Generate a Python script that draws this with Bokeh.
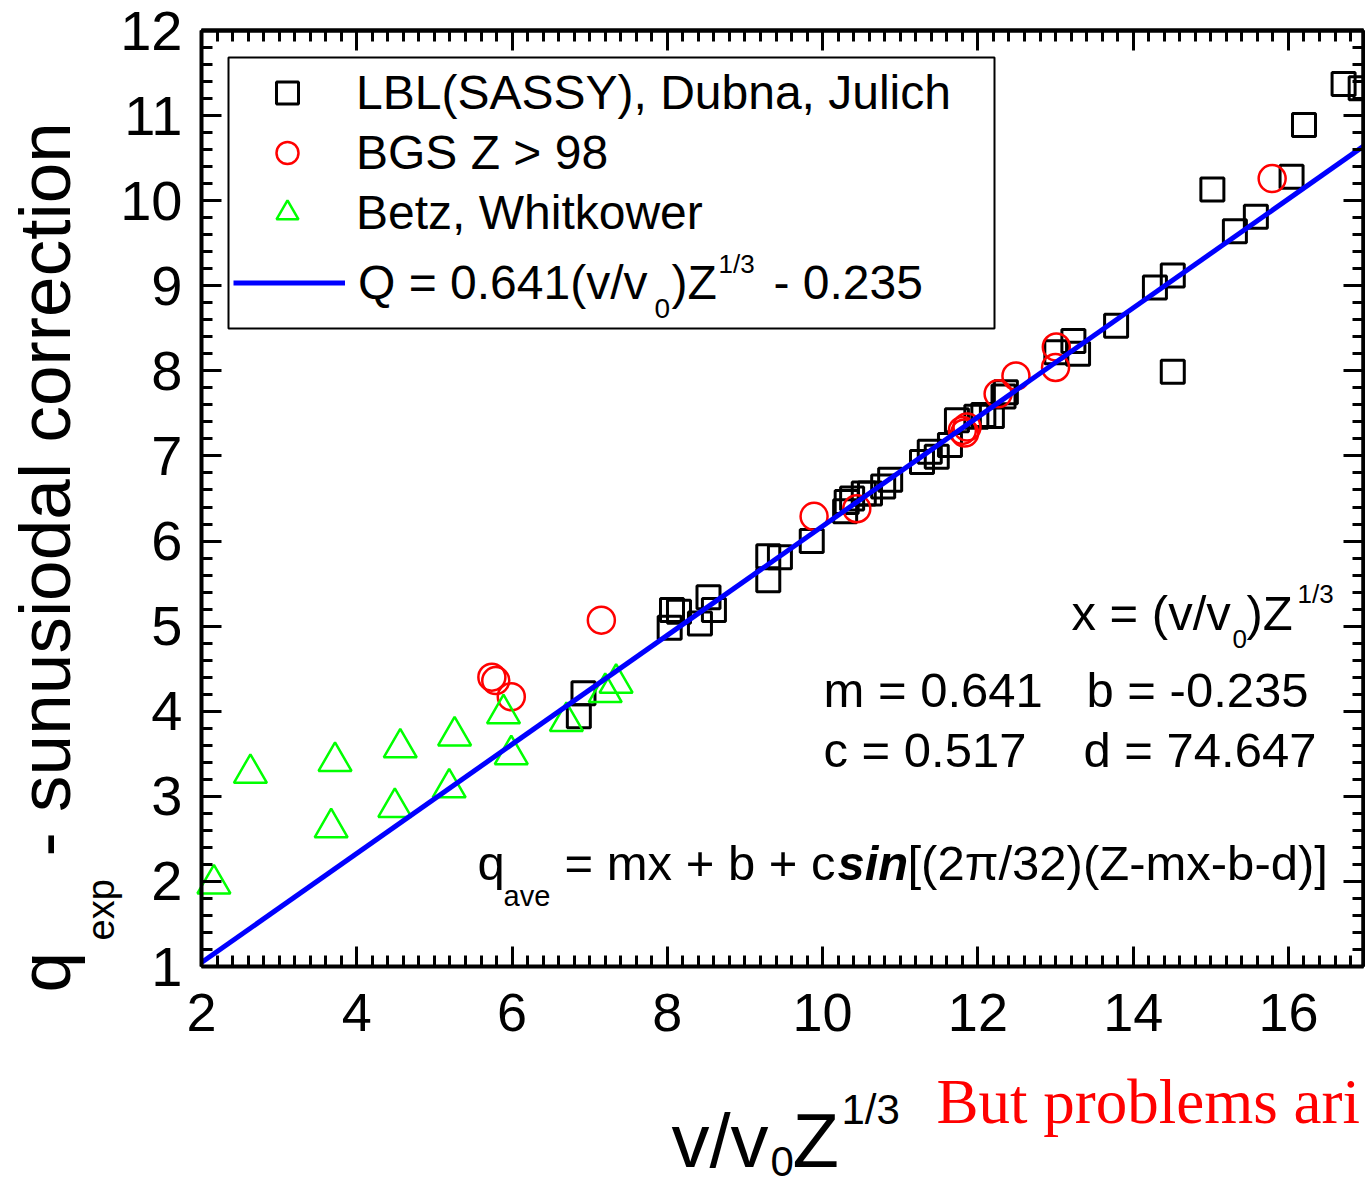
import math
import numpy as np
from bokeh.plotting import figure
from bokeh.models import (Label, Legend, LegendItem, LinearAxis, SingleIntervalTicker,
                          FixedTicker, BoxAnnotation, Range1d)
from bokeh.core.properties import value
from bokeh.embed import file_html
from bokeh.resources import INLINE

# ---------------- data ----------------
lbl_x = [16.71, 16.93, 16.20, 15.02, 16.04, 15.58, 15.31, 14.51, 14.28, 14.51, 13.78,
         13.23, 13.29, 13.01, 12.36, 12.33, 12.07, 11.98, 12.18, 11.73, 11.64, 11.47,
         11.28, 11.38, 10.87, 10.78, 10.61, 10.31, 10.29, 10.38, 10.53, 9.86, 9.30,
         9.45, 9.30, 8.53, 8.60, 8.06, 8.15, 8.03, 8.42, 6.92, 6.86]
lbl_y = [11.37, 11.32, 10.89, 10.13, 10.28, 9.81, 9.64, 9.12, 8.98, 7.99, 8.53,
         8.35, 8.20, 8.22, 7.75, 7.70, 7.48, 7.46, 7.47, 7.42, 7.13, 6.99,
         6.93, 7.05, 6.72, 6.64, 6.56, 6.46, 6.35, 6.50, 6.56, 6.00, 5.82,
         5.81, 5.54, 5.34, 5.19, 5.19, 5.17, 4.98, 5.03, 4.21, 3.94]

bgs_x = [5.74, 5.79, 5.99, 7.15, 9.89, 10.44, 11.80, 11.86, 11.83, 12.26, 12.49, 13.00, 13.01, 15.79]
bgs_y = [4.40, 4.36, 4.17, 5.07, 6.29, 6.38, 7.30, 7.34, 7.27, 7.73, 7.94, 8.04, 8.28, 10.26]

betz_x = [2.16, 2.63, 3.72, 3.67, 4.56, 4.49, 5.26, 5.19, 5.89, 5.99, 6.70, 7.20, 7.34]
betz_y = [1.97, 3.27, 3.41, 2.63, 3.57, 2.87, 3.71, 3.10, 3.97, 3.49, 3.88, 4.22, 4.33]

# fitted line Q = 0.641 x - 0.235, end points
fit_x = [2.0, 17.0]
fit_y = [1.047, 10.662]

legend_labels = ["LBL(SASSY), Dubna, Julich", "BGS Z > 98", "Betz, Whitkower"]

# ---------------- layout ----------------
W, H = 1365, 1187
BL, BT, BR, BB = 201, 30, 1363, 966          # axes box in canvas pixels
XA, YA, YB = 2.0, 1.0, 12.0                   # axis start values
PXU = 77.64                                   # pixels per x unit
PYU = (BB - BT) / (YB - YA)                   # pixels per y unit
XB = XA + (BR - BL) / PXU                     # x value at right edge of box
XS = XA - BL / PXU                            # x value at canvas left
XE = XS + W / PXU                             # x value at canvas right
YS = YA - (H - BB) / PYU                      # y value at canvas bottom
YE = YS + H / PYU                             # y value at canvas top


def dx(px):
    return XS + px / PXU


def dy(py):
    return YE - py / PYU


SANS = "Liberation Sans"

p = figure(width=W, height=H, x_range=Range1d(XS, XE), y_range=Range1d(YS, YE),
           output_backend="svg", toolbar_location=None,
           x_axis_type=None, y_axis_type=None, min_border=0,
           background_fill_color="white", border_fill_color="white",
           outline_line_color=None)


def style_axis(ax):
    ax.axis_line_width = 4
    ax.axis_line_color = "black"
    ax.major_tick_in = 20
    ax.major_tick_out = 0
    ax.minor_tick_in = 11
    ax.minor_tick_out = 0
    ax.major_tick_line_width = 3
    ax.minor_tick_line_width = 3
    ax.major_tick_line_color = "black"
    ax.minor_tick_line_color = "black"
    return ax


def label_axis(interval, nminor, size, standoff, loc, bounds):
    ax = style_axis(LinearAxis(ticker=SingleIntervalTicker(interval=interval,
                                                          num_minor_ticks=nminor),
                               fixed_location=loc, bounds=bounds))
    ax.major_label_text_font = SANS
    ax.major_label_text_color = "black"
    ax.major_label_text_font_size = size
    ax.major_label_standoff = standoff
    return ax


def bare_axis(positions, length, loc, bounds):
    # axis without labels: ticks given only as "minor" ticks
    ax = style_axis(LinearAxis(ticker=FixedTicker(ticks=[], minor_ticks=list(positions)),
                               fixed_location=loc, bounds=bounds))
    ax.minor_tick_in = length
    ax.major_label_standoff = 0
    return ax


x_major = [float(v) for v in np.arange(2, 16.01, 2)]
x_minor = [float(v) for v in np.round(np.arange(2, 16.81, 0.2), 2)]
y_major = [float(v) for v in np.arange(1, 12.01, 1)]
y_minor = [float(v) for v in np.round(np.arange(1, 12.01, 0.2), 2)]

p.add_layout(label_axis(2, 10, "54px", 27, YA, (XA, XB)), "below")
p.add_layout(label_axis(1, 5, "56px", 19, XA, (YA, YB)), "left")
p.add_layout(bare_axis(x_major, 20, YB, (XA, XB)), "above")
p.add_layout(bare_axis(x_minor, 11, YB, (XA, XB)), "above")
p.add_layout(bare_axis(y_major, 20, XB, (YA, YB)), "right")
p.add_layout(bare_axis(y_minor, 11, XB, (YA, YB)), "right")

sq = p.scatter(lbl_x, lbl_y, marker="square", size=23, fill_color=None,
               line_color="black", line_width=3)
ci = p.scatter(bgs_x, bgs_y, marker="circle", size=27, fill_color=None,
               line_color="#ff0000", line_width=2.5)
tr = p.scatter(betz_x, betz_y, marker="triangle", size=33, fill_color=None,
               line_color="#00ff00", line_width=2.5)
ln = p.line(fit_x, fit_y, line_color="#0000ff", line_width=5)

# ---------------- legend ----------------
box = BoxAnnotation(left=dx(228), right=dx(994), top=dy(57), bottom=dy(328),
                    fill_color=None, fill_alpha=0, line_color="black",
                    line_alpha=1.0, line_width=2)
p.add_layout(box)

common = dict(padding=5, margin=0, spacing=0, glyph_width=112, glyph_height=55,
              label_height=60, label_standoff=13, label_text_font_size="48px",
              label_text_font=SANS, label_text_color="black",
              background_fill_alpha=0, border_line_color=None)
leg1 = Legend(items=[LegendItem(label=value(legend_labels[0]), renderers=[sq]),
                     LegendItem(label=value(legend_labels[1]), renderers=[ci]),
                     LegendItem(label=value(legend_labels[2]), renderers=[tr])],
              location=(231, H - 52 - 190), **common)
p.add_layout(leg1)
common2 = dict(common)
common2["padding"] = 0
leg2 = Legend(items=[LegendItem(label=value("Q = 0.641(v/v"), renderers=[ln])],
              location=(233, H - 312), **common2)
p.add_layout(leg2)

OFF = 0.35  # text is anchored at its centre line; shift to put the baseline right


def lab(text, px, py, size, color="black", style="normal", font=SANS, angle=0.0):
    """(px, py) = start of the text baseline, in canvas pixels"""
    if angle == 0.0:
        ax_, ay_ = px, py - OFF * size
    else:
        ax_, ay_ = px - OFF * size, py
    p.add_layout(Label(x=dx(ax_), y=dy(ay_), text=text, text_font=font,
                       text_font_size=f"{size}px", text_color=color, angle=angle,
                       text_font_style=style, text_align="left",
                       text_baseline="alphabetic"))


# rest of legend line 4
lab("0", 654, 318, 28)
lab(")Z", 671, 299, 48)
lab("1/3", 718, 273, 26)
lab("- 0.235", 773, 299, 48)

# annotation block
lab("x = (v/v", 1071, 630, 49)
lab("0", 1232, 648, 26)
lab(")Z", 1246, 630, 49)
lab("1/3", 1297, 603, 26)
lab("m = 0.641", 823, 707, 49)
lab("b = -0.235", 1086, 707, 49)
lab("c = 0.517", 823, 767, 49)
lab("d = 74.647", 1083, 767, 49)
lab("q", 477, 880, 49)
lab("ave", 503, 906, 29)
lab("= mx + b + c", 564, 880, 49)
lab("sin", 837, 880, 49, style="bold italic")
lab("[(2\u03c0/32)(Z-mx-b-d)]", 907, 880, 49)

# x axis title
lab("v/v", 671, 1167, 76)
lab("0", 770, 1176, 42)
lab("Z", 792, 1167, 76)
lab("1/3", 841, 1124, 42)

# y axis title (rotated)
rot = math.pi / 2
lab("q", 70, 992, 73, angle=rot)
lab("exp", 114, 940, 38, angle=rot)
lab("- sunusiodal correction", 70, 856, 73, angle=rot)

# slide text
lab("But problems ari", 936, 1124, 63, color="#ff0000", font="Liberation Serif")

open("out.html", "w").write(file_html(p, INLINE))
